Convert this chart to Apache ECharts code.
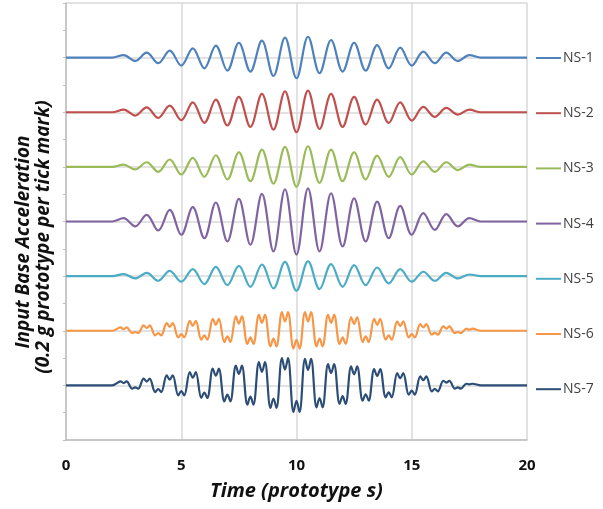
<!DOCTYPE html>
<html>
<head>
<meta charset="utf-8">
<script src="https://cdn.jsdelivr.net/npm/echarts@6/dist/echarts.min.js"></script>
<style>
  html, body { margin: 0; padding: 0; background: #fff; }
  #chart { width: 603px; height: 509px; }
</style>
</head>
<body>
<div id="chart"></div>
<script>
// times of each half-cycle lobe (peaks at x.5, troughs at whole seconds)
const lobeT = [2.5, 3, 3.5, 4, 4.5, 5, 5.5, 6, 6.5, 7, 7.5, 8, 8.5, 9, 9.5, 10,
  10.5, 11, 11.5, 12, 12.5, 13, 13.5, 14, 14.5, 15, 15.5, 16, 16.5, 17, 17.5];

const names = ['NS-1', 'NS-2', 'NS-3', 'NS-4', 'NS-5', 'NS-6', 'NS-7'];
const colors = ['#4F81BD', '#C0504D', '#9BBB59', '#8064A2', '#4BACC6', '#F79646', '#2C4D75'];
// vertical offset of each record (g), two tick marks apart
const offsets = [2.8, 2.4, 2.0, 1.6, 1.2, 0.8, 0.4];

// lobe amplitudes (g)
const ns1 = [0.019, -0.024, 0.036, -0.041, 0.051, -0.058, 0.068, -0.078, 0.088, -0.095, 0.109, -0.102, 0.124, -0.134, 0.146, -0.151,
  0.153, -0.114, 0.129, -0.102, 0.109, -0.095, 0.092, -0.078, 0.073, -0.058, 0.044, -0.041, 0.036, -0.024, 0.019];
const ns2 = [0.019, -0.024, 0.036, -0.041, 0.049, -0.058, 0.073, -0.078, 0.092, -0.097, 0.112, -0.107, 0.134, -0.127, 0.153, -0.146,
  0.158, -0.122, 0.134, -0.107, 0.112, -0.090, 0.092, -0.078, 0.073, -0.061, 0.039, -0.034, 0.032, -0.017, 0.019];
const ns3 = [0.017, -0.019, 0.034, -0.036, 0.054, -0.056, 0.066, -0.073, 0.085, -0.092, 0.107, -0.105, 0.127, -0.122, 0.146, -0.146,
  0.151, -0.117, 0.127, -0.105, 0.107, -0.092, 0.083, -0.073, 0.071, -0.056, 0.041, -0.036, 0.034, -0.024, 0.017];
const ns4 = [0.024, -0.036, 0.049, -0.066, 0.085, -0.097, 0.105, -0.122, 0.139, -0.146, 0.165, -0.170, 0.202, -0.219, 0.236, -0.243,
  0.243, -0.219, 0.207, -0.182, 0.170, -0.146, 0.146, -0.122, 0.114, -0.097, 0.061, -0.061, 0.054, -0.036, 0.024];
const ns5 = [0.015, -0.017, 0.024, -0.034, 0.039, -0.041, 0.051, -0.058, 0.068, -0.066, 0.075, -0.078, 0.085, -0.090, 0.105, -0.107,
  0.109, -0.095, 0.088, -0.078, 0.080, -0.066, 0.063, -0.054, 0.051, -0.041, 0.032, -0.034, 0.024, -0.017, 0.012];
// NS-6 / NS-7 have split lobes: two tips with a dip between
const ns6Tip = [0.024, -0.017, 0.039, -0.034, 0.056, -0.049, 0.073, -0.066, 0.088, -0.083, 0.105, -0.097, 0.117, -0.114, 0.136, -0.131,
  0.136, -0.114, 0.117, -0.097, 0.100, -0.083, 0.088, -0.066, 0.068, -0.049, 0.049, -0.029, 0.032, -0.017, 0.015];
const ns6Dip = [0.012, -0.009, 0.020, -0.017, 0.028, -0.025, 0.036, -0.033, 0.044, -0.041, 0.052, -0.049, 0.058, -0.057, 0.068, -0.066,
  0.068, -0.057, 0.058, -0.049, 0.050, -0.041, 0.044, -0.033, 0.034, -0.025, 0.024, -0.015, 0.016, -0.009, 0.008];
const ns7Tip = [0.029, -0.024, 0.049, -0.049, 0.073, -0.073, 0.097, -0.092, 0.122, -0.117, 0.144, -0.141, 0.170, -0.165, 0.200, -0.195,
  0.195, -0.161, 0.156, -0.136, 0.139, -0.112, 0.119, -0.088, 0.090, -0.068, 0.066, -0.044, 0.034, -0.024, 0.012];
const ns7Dip = [0.017, -0.014, 0.028, -0.028, 0.042, -0.042, 0.056, -0.053, 0.071, -0.068, 0.084, -0.082, 0.099, -0.096, 0.116, -0.113,
  0.113, -0.093, 0.090, -0.079, 0.081, -0.065, 0.069, -0.051, 0.052, -0.039, 0.038, -0.026, 0.020, -0.014, 0.007];

const tipHalf = 0.13; // tips sit this far (s) either side of the lobe centre
const quietStart = 2, quietEnd = 18;

function simpleTrace(vals, off) {
  const d = [[0, off], [quietStart, off]];
  lobeT.forEach((t, i) => d.push([t, off + vals[i]]));
  d.push([quietEnd, off], [20, off]);
  return d;
}

function splitTrace(tips, dips, off) {
  const d = [[0, off], [quietStart, off]];
  lobeT.forEach((t, i) => {
    d.push([t - tipHalf, off + tips[i]]);
    d.push([t, off + dips[i]]);
    d.push([t + tipHalf, off + tips[i]]);
  });
  d.push([quietEnd, off], [20, off]);
  return d;
}

const traces = [
  simpleTrace(ns1, offsets[0]),
  simpleTrace(ns2, offsets[1]),
  simpleTrace(ns3, offsets[2]),
  simpleTrace(ns4, offsets[3]),
  simpleTrace(ns5, offsets[4]),
  splitTrace(ns6Tip, ns6Dip, offsets[5]),
  splitTrace(ns7Tip, ns7Dip, offsets[6])
];

const font = '"Open Sans", Lato, sans-serif';
const chart = echarts.init(document.getElementById('chart'));

const option = {
  animation: false,
  backgroundColor: '#fff',
  color: colors,
  grid: { left: 66, right: 76, top: 3, bottom: 69 },
  legend: {
    orient: 'vertical',
    left: 535,
    top: 51,
    itemWidth: 25,
    itemHeight: 14,
    itemGap: 41.2,
    padding: 0,
    itemStyle: { opacity: 0 },
    lineStyle: { width: 2 },
    textStyle: { fontFamily: font, fontSize: 14, lineHeight: 14, color: '#404040', padding: [0, 0, 0, -3] },
    data: names
  },
  xAxis: {
    type: 'value',
    min: 0,
    max: 20,
    interval: 5,
    name: 'Time (prototype s)',
    nameLocation: 'middle',
    nameGap: 41,
    nameTextStyle: { fontFamily: font, fontSize: 20, fontWeight: 'bold', fontStyle: 'italic', color: '#111' },
    axisLine: { lineStyle: { color: '#bfbfbf', width: 1.5 } },
    axisTick: { show: false },
    axisLabel: { margin: 18, fontFamily: font, fontSize: 15, fontWeight: 'bold', color: '#111' },
    splitLine: { lineStyle: { color: '#d9d9d9', width: 1.5 } }
  },
  yAxis: {
    type: 'value',
    min: 0,
    max: 3.2,
    interval: 0.4,
    axisLine: { show: true, lineStyle: { color: '#bfbfbf', width: 1.5 } },
    axisTick: { show: true, length: 3, lineStyle: { color: '#bfbfbf' } },
    minorTick: { show: true, splitNumber: 2, length: 3, lineStyle: { color: '#bfbfbf' } },
    axisLabel: { show: false },
    splitLine: { lineStyle: { color: '#d9d9d9', width: 1.5 } }
  },
  graphic: [
    {
      type: 'text', x: 24, y: 242, rotation: Math.PI / 2,
      style: {
        text: 'Input Base Acceleration', fill: '#111',
        font: 'italic bold 19px ' + font, textAlign: 'center', textVerticalAlign: 'middle'
      }
    },
    {
      type: 'text', x: 44, y: 237, rotation: Math.PI / 2,
      style: {
        text: '(0.2 g prototype per tick mark)', fill: '#111',
        font: 'italic bold 19px ' + font, textAlign: 'center', textVerticalAlign: 'middle'
      }
    }
  ],
  series: names.map((n, i) => ({
    name: n,
    type: 'line',
    data: traces[i],
    smooth: 0.36,
    symbol: 'none',
    lineStyle: { width: 2.2, color: colors[i] }
  }))
};

chart.setOption(option);
</script>
</body>
</html>
